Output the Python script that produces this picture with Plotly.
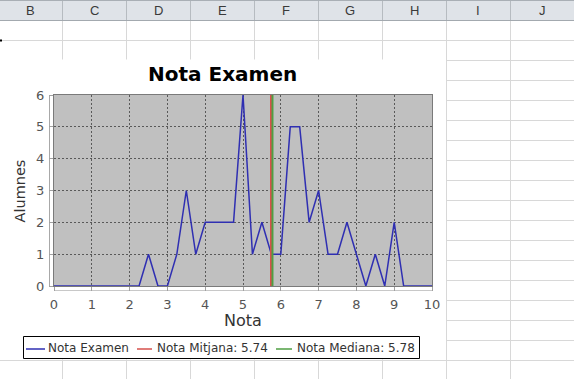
import plotly.graph_objects as go

# ---------------- data ----------------
notes = [i * 0.25 for i in range(41)]
alumnes = [0, 0, 0, 0, 0, 0, 0, 0, 0, 0,      # 0 .. 2.25
           1, 0, 0, 1, 3, 1, 2, 2, 2, 2,      # 2.5 .. 4.75
           6, 1, 2, 1, 1, 5, 5, 2, 3, 1,      # 5.0 .. 7.25
           1, 2, 1, 0, 1, 0, 2, 0, 0, 0,      # 7.5 .. 9.75
           0]                                 # 10
nota_mitjana = 5.74
nota_mediana = 5.78
x_ticks = list(range(0, 11))
y_ticks = list(range(0, 7))
columns = ["B", "C", "D", "E", "F", "G", "H", "I", "J"]

title_text = "Nota Examen"
x_title = "Nota"
y_title = "Alumnes"

# ---------------- geometry helpers ----------------
W, H = 574, 379
L, R, T, B = 54, 432, 95, 286


def fx(px):
    return (px - L) / (R - L)


def fy(py):
    return (B - py) / (B - T)


FONT = "DejaVu Sans"
BLUE = "#2f2fb2"
RED = "#d6504c"
GREEN = "#4f9f43"

fig = go.Figure()
fig.add_trace(go.Scatter(x=notes, y=alumnes, mode="lines",
                         line=dict(color=BLUE, width=1.5),
                         name="Nota Examen", showlegend=False))
fig.add_trace(go.Scatter(x=[nota_mitjana, nota_mitjana], y=[0, 6], mode="lines",
                         line=dict(color=RED, width=2),
                         name=f"Nota Mitjana: {nota_mitjana}", showlegend=False))
fig.add_trace(go.Scatter(x=[nota_mediana, nota_mediana], y=[0, 6], mode="lines",
                         line=dict(color=GREEN, width=2),
                         name=f"Nota Mediana: {nota_mediana}", showlegend=False))

shapes = []


def rect(x0, y0, x1, y1, fill, line_color=None, lw=0):
    shapes.append(dict(type="rect", xref="paper", yref="paper",
                       x0=fx(x0), x1=fx(x1), y0=fy(y0), y1=fy(y1),
                       fillcolor=fill, layer="below",
                       line=dict(width=lw, color=line_color or fill)))


def line(x0, y0, x1, y1, color, lw=1, layer="below"):
    shapes.append(dict(type="line", xref="paper", yref="paper",
                       x0=fx(x0), x1=fx(x1), y0=fy(y0), y1=fy(y1),
                       layer=layer, line=dict(width=lw, color=color)))


# spreadsheet header
col_bounds = [-2, 62, 126, 190, 254, 318, 382, 446, 510, 574]
rect(0, 0, W, 20, "#dfe3e8")
line(0, 0.5, W, 0.5, "#a9afb5")
line(0, 20.5, W, 20.5, "#a3a9af")
for b in col_bounds[1:-1]:
    line(b + 0.5, 1, b + 0.5, 20, "#b6bbc0")
# cell grid
for b in col_bounds[1:-1]:
    line(b + 0.5, 21, b + 0.5, W, "#d8d8d8")
for r in range(40, 381, 20):
    line(0, r + 0.5, W, r + 0.5, "#d8d8d8")
# selection marker
line(0, 40.5, 2, 40.5, "#000000", lw=2)

# chart panel
rect(-2, 59.5, 446, 359.5, "#ffffff")
# plot background
rect(L, T, R, B, "#c0c0c0")
# offset axis lines
line(49.5, T, 49.5, B, "#a8a8a8")
line(L, 290.5, R, 290.5, "#c8c8c8")

# legend box
rect(23.5, 336.5, 419.5, 358.5, "#ffffff", "#000000", 1)
line(26, 349, 45, 349, BLUE, 1.5, layer="above")
line(137, 349, 152, 349, RED, 1.5, layer="above")
line(276, 349, 292, 349, GREEN, 1.5, layer="above")

annotations = []
for i, c in enumerate(columns):
    cx = (col_bounds[i] + col_bounds[i + 1]) / 2
    annotations.append(dict(text=c, x=fx(cx), y=fy(10.5), xref="paper", yref="paper",
                            xanchor="center", yanchor="middle", showarrow=False,
                            font=dict(family="Liberation Sans", size=13, color="#3a3a3a")))

annotations.append(dict(text=title_text, x=fx(222), y=fy(74), xref="paper", yref="paper",
                        xanchor="center", yanchor="middle", showarrow=False,
                        font=dict(family=FONT, size=20, color="#000000", weight="bold")))
annotations.append(dict(text=x_title, x=fx(243), y=fy(320), xref="paper", yref="paper",
                        xanchor="center", yanchor="middle", showarrow=False,
                        font=dict(family=FONT, size=16, color="#333333")))
annotations.append(dict(text=y_title, x=fx(19.5), y=fy(191), xref="paper", yref="paper",
                        xanchor="center", yanchor="middle", showarrow=False, textangle=-90,
                        font=dict(family=FONT, size=14.5, color="#333333")))

legend_items = [("Nota Examen", 46),
                (f"Nota Mitjana: {nota_mitjana}", 155),
                (f"Nota Mediana: {nota_mediana}", 295)]
for txt, lx in legend_items:
    annotations.append(dict(text=txt, x=fx(lx), y=fy(348), xref="paper", yref="paper",
                            xanchor="left", yanchor="middle", showarrow=False,
                            font=dict(family=FONT, size=12, color="#333333")))

axis_common = dict(showgrid=True, gridcolor="#595959", gridwidth=1, griddash="2px,2px",
                   showline=True, mirror=True, linecolor="#7a7a7a", linewidth=1,
                   ticks="outside", ticklen=4, tickcolor="#a0a0a0",
                   tickfont=dict(family=FONT, size=13, color="#555555"),
                   zeroline=False, fixedrange=True)

fig.update_layout(
    width=W, height=H,
    margin=dict(l=L, r=W - R, t=T, b=H - B, pad=0),
    paper_bgcolor="#ffffff", plot_bgcolor="#c0c0c0",
    showlegend=False,
    xaxis=dict(range=[0, 10], tickvals=x_ticks, ticklabelstandoff=2, **axis_common),
    yaxis=dict(range=[0, 6], tickvals=y_ticks, ticklabelstandoff=2, **axis_common),
    shapes=shapes, annotations=annotations,
)

fig.write_html("out.html", config={"displayModeBar": False},
               post_script="document.body.style.margin='0';document.body.style.overflow='hidden';")
